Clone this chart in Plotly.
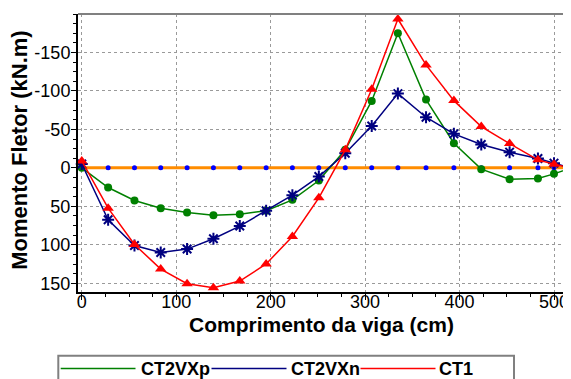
import plotly.graph_objects as go

# ---- data ----
x_cm = [0, 27.9, 55.8, 83.6, 111.5, 139.4, 167.3, 195.2, 223.0, 251.0,
        279.0, 307.0, 334.7, 364.5, 394.0, 423.0, 453.0, 483.0, 500.0, 517.5]
ct2vxp = [0, 25.6, 42.4, 52.4, 58.0, 61.5, 60.2, 55.8, 41.6, 16.5,
          -23.4, -87.0, -174.9, -88.7, -32.0, 1.7, 14.7, 13.9, 7.8, 0.4]
ct2vxn = [-5, 67.5, 100.9, 110.0, 105.6, 92.2, 75.7, 55.8, 35.5, 11.3,
          -19.0, -54.5, -96.5, -65.8, -44.2, -30.3, -20.4, -12.1, -6.1, 0]
ct1 = [-9, 52.4, 99.6, 131.6, 150.6, 155.8, 147.2, 125.0, 89.2, 39.0,
       -23.4, -102.2, -193.5, -133.8, -87.4, -53.6, -31.6, -10.4, -4.8, 0]
baseline = [0] * len(x_cm)

series_names = ["CT2VXp", "CT2VXn", "CT1"]
x_ticks = [0, 100, 200, 300, 400, 500]
y_ticks = [-150, -100, -50, 0, 50, 100, 150]
x_title = "Comprimento da viga (cm)"
y_title = "Momento Fletor (kN.m)"

# ---- layout geometry (page has an 8px body margin) ----
OFF = 8
PAGE_W, PAGE_H = 571, 379
PL, PR, PT, PB = 78, 571, 14, 292.3          # plot area in page pixels
W, H = PAGE_W - OFF, PAGE_H - OFF
ML, MT = PL - OFF, PT - OFF
MR = W - (PR - OFF)
MB = H - (PB - OFF)
FONT = "Liberation Sans, Arial, sans-serif"

GREEN, NAVY, RED, ORANGE, BLUE = "#008000", "#000080", "#FF0000", "#FF8C00", "#0000FF"


def pxx(x):
    return (x - PL) / (PR - PL)


def pxy(y):
    return (PB - y) / (PB - PT)


fig = go.Figure()

fig.add_trace(go.Scatter(x=x_cm, y=baseline, mode="lines+markers", showlegend=False,
                         line=dict(color=ORANGE, width=3),
                         marker=dict(color=BLUE, size=5, symbol="circle"),
                         cliponaxis=False, name="base"))
fig.add_trace(go.Scatter(x=x_cm, y=ct2vxp, mode="lines+markers", name=series_names[0],
                         showlegend=False, line=dict(color=GREEN, width=1.5),
                         marker=dict(color=GREEN, size=8, symbol="circle"), cliponaxis=False))
fig.add_trace(go.Scatter(x=x_cm, y=ct2vxn, mode="lines+markers", name=series_names[1],
                         showlegend=False, line=dict(color=NAVY, width=1.5),
                         marker=dict(color=NAVY, size=10, symbol="asterisk-open",
                                     line=dict(color=NAVY, width=2)), cliponaxis=False))
fig.add_trace(go.Scatter(x=x_cm, y=ct1, mode="lines+markers", name=series_names[2],
                         showlegend=False, line=dict(color=RED, width=1.5),
                         marker=dict(color=RED, size=10, symbol="triangle-up"), cliponaxis=False))

# ---- custom legend (box, line samples, markers, labels) ----
leg_y = 369
leg_items = [
    (series_names[0], GREEN, 60.7, 135.5, 98.5, 138.5, "circle", 7),
    (series_names[1], NAVY, 211.5, 286.5, 249.5, 288.5, "asterisk-open", 8),
    (series_names[2], RED, 360.5, 435.5, 398.5, 436.5, "triangle-up", 9),
]
shapes = [
    dict(type="rect", xref="paper", yref="paper", x0=pxx(58.3), x1=pxx(514),
         y0=pxy(400), y1=pxy(356), line=dict(color="#808080", width=2), fillcolor="rgba(0,0,0,0)"),
    dict(type="line", xref="paper", yref="paper", x0=0, x1=1, y0=1, y1=1,
         line=dict(color="#808080", width=2)),
]
annotations = [
    dict(text=x_title, xref="paper", yref="paper", x=pxx(321), y=pxy(324.5),
         xanchor="center", yanchor="middle", showarrow=False,
         font=dict(family=FONT, size=21, color="black", weight="bold")),
    dict(text=y_title, xref="paper", yref="paper", x=pxx(20), y=pxy(150),
         xanchor="center", yanchor="middle", showarrow=False, textangle=-90,
         font=dict(family=FONT, size=22, color="black", weight="bold")),
]
for name, col, lx0, lx1, mx, tx, sym, sz in leg_items:
    shapes.append(dict(type="line", xref="paper", yref="paper", x0=pxx(lx0), x1=pxx(lx1),
                       y0=pxy(leg_y), y1=pxy(leg_y), line=dict(color=col, width=1.5)))
    fig.add_trace(go.Scatter(x=[mx], y=[leg_y], xaxis="x2", yaxis="y2", mode="markers",
                             showlegend=False, hoverinfo="skip", cliponaxis=False,
                             marker=dict(color=col, size=sz, symbol=sym,
                                         line=dict(color=col, width=1.5))))
    annotations.append(dict(text=name, xref="paper", yref="paper", x=pxx(tx), y=pxy(leg_y + 0.5),
                            xanchor="left", yanchor="middle", showarrow=False,
                            font=dict(family=FONT, size=18, color="black", weight="bold")))

fig.update_layout(
    width=W, height=H,
    margin=dict(l=ML, r=MR, t=MT, b=MB, pad=0),
    paper_bgcolor="white", plot_bgcolor="white",
    font=dict(family=FONT, color="black"),
    shapes=shapes, annotations=annotations,
    xaxis=dict(range=[-4, 518], tickvals=x_ticks, ticktext=[str(v) for v in x_ticks],
               showgrid=True, gridcolor="#9a9a9a", griddash="dot", gridwidth=1,
               showline=True, linecolor="black", linewidth=2, zeroline=False,
               ticks="outside", ticklen=6, tickwidth=1, tickcolor="black", ticklabelstandoff=-14,
               minor=dict(dtick=25, tick0=0, ticks="outside", ticklen=3, tickcolor="black", showgrid=False),
               tickfont=dict(size=18, family=FONT, color="black"),
               automargin=False),
    yaxis=dict(range=[161.4, -200], tickvals=y_ticks, ticktext=[str(v) for v in y_ticks],
               showgrid=True, gridcolor="#9a9a9a", griddash="dot", gridwidth=1,
               showline=True, linecolor="black", linewidth=2, zeroline=False,
               ticks="outside", ticklen=5, tickwidth=1, tickcolor="black", ticklabelstandoff=-3,
               minor=dict(dtick=12.5, tick0=0, ticks="outside", ticklen=3, tickcolor="black", showgrid=False),
               tickfont=dict(size=18, family=FONT, color="black"),
               automargin=False),
    xaxis2=dict(overlaying="x", range=[PL, PR], visible=False, fixedrange=True),
    yaxis2=dict(overlaying="y", range=[PB, PT], visible=False, fixedrange=True),
)

fig.write_html("out.html")
